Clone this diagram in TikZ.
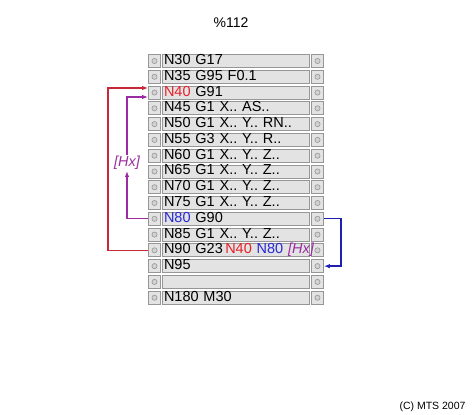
\documentclass[tikz,border=0pt]{standalone}
\usepackage{fontspec}
\setmainfont{Liberation Sans}
\usepackage{xcolor}
\usetikzlibrary{arrows.meta}
\definecolor{nred}{RGB}{232,32,42}
\definecolor{nblue}{RGB}{40,40,215}
\definecolor{npurple}{RGB}{155,45,160}
\definecolor{lred}{RGB}{200,40,55}
\definecolor{lblue}{RGB}{30,30,175}
\definecolor{boxfill}{RGB}{227,227,227}
\definecolor{boxline}{RGB}{150,150,150}
\definecolor{dotfill}{RGB}{210,210,210}

\tikzset{
	cell/.style={draw=boxline, fill=boxfill, line width=0.8pt, minimum height=13pt, inner sep=0pt},
	prog/.style={cell, minimum width=147pt, text width=143pt, inner xsep=2pt, align=left,
		font=\fontsize{14.5}{14.5}\selectfont\frenchspacing, text height=10pt, text depth=3pt},
	side/.style={cell, minimum width=12pt},
	jump/.style={line width=1.3pt, -{Latex[length=6pt,width=4.5pt]}}
}

\begin{document}
\begin{tikzpicture}[x=1pt, y=-1pt]
			\useasboundingbox (0,0) rectangle (472,415);
			\node[font=\fontsize{14}{14}\selectfont] (title) at (231,23) {\%112};
			\foreach \t [count=\i, evaluate=\i as \y using 61+(\i-1)*15.78] in
				{N30 G17, N35 G95 F0.1, \textcolor{nred}{N40} G91, N45 G1 X.. AS.., N50 G1 X.. Y.. RN..,
				 N55 G3 X.. Y.. R.., N60 G1 X.. Y.. Z.., N65 G1 X.. Y.. Z.., N70 G1 X.. Y.. Z..,
				 N75 G1 X.. Y.. Z.., \textcolor{nblue}{N80} G90, N85 G1 X.. Y.. Z..,
				 N90 G23\,\textcolor{nred}{N40} \textcolor{nblue}{N80} \textcolor{npurple}{\itshape [Hx]},
				 N95, {}, N180 M30}
			{
				\node[side] (l\i) at (154.5,\y) {};
				\node[side] (r\i) at (317.5,\y) {};
				\draw[boxline, fill=dotfill, line width=0.6pt] (l\i.center) circle (2.6pt);
				\draw[boxline, fill=dotfill, line width=0.6pt] (r\i.center) circle (2.6pt);
				\node[prog] (p\i) at (235.5,\y) {\mbox{\t}};
			}
			\coordinate (redup) at (108,88);
			\coordinate (purpup) at (127,97);
			\node[text=npurple, inner sep=1pt, font=\fontsize{14.5}{14.5}\selectfont\itshape] (hx) at (127,163) {[Hx]};
			\draw[jump, lred] (l13.west) -| (redup) -- (redup -| l3.west);
			\draw[jump, npurple] (l11.west) -| (hx.south);
			\draw[jump, npurple] (hx.north) -- (purpup) -- (purpup -| l3.west);
			\draw[jump, lblue] (r11.east) -- ++(17,0) |- (r14.east);
			\node[anchor=east, font=\fontsize{10.5}{10.5}\selectfont] (copy) at (469,407) {(C) MTS 2007};
		\end{tikzpicture}
\end{document}
